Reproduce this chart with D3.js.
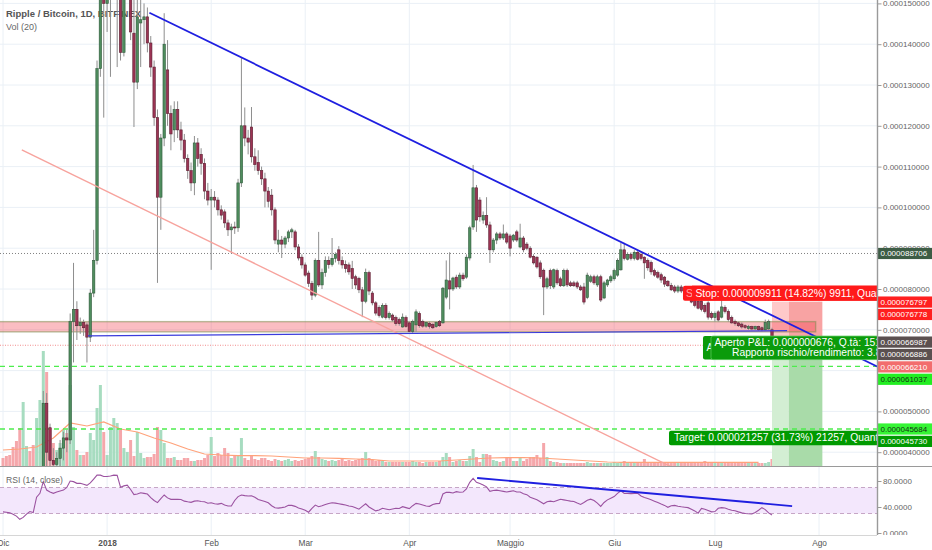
<!DOCTYPE html>
<html>
<head>
<meta charset="utf-8">
<script src="https://cdn.jsdelivr.net/npm/d3@7"></script>
<style>
body { margin: 0; background: #fff; }
svg { display: block; font-family: "Liberation Sans", Arial, sans-serif; }
</style>
</head>
<body>
<svg id="svg"></svg>
<script>
// XRP/BTC daily candles from 1 Dec 2017, prices in units of 0.000001 BTC
var opens = [
	24.5,24.0,23.5,22.0,21.5,20.0,17.5,19.0,19.5,18.5,
	18.0,24.0,30.0,52.0,46.0,38.0,37.0,38.5,41.0,43.5,
	43.0,72.0,75.0,71.0,71.8,71.2,68.2,79.0,87.0,134.0,
	160.0,150.0,162.0,178.0,195.0,210.0,138.0,160.0,172.0,142.7,
	130.7,145.2,146.0,146.7,140.3,134.4,122.0,102.5,117.0,133.7,
	123.0,119.0,124.0,119.0,116.5,112.0,109.0,106.0,115.8,113.0,
	110.8,104.0,101.8,102.5,101.8,99.4,98.9,96.2,94.5,95.2,
	95.0,106.0,120.0,117.0,119.7,112.4,111.0,109.0,107.0,104.0,
	103.0,99.4,91.0,92.0,91.0,92.5,94.0,94.0,90.3,87.8,
	85.9,83.9,81.4,78.5,87.0,81.0,84.0,87.0,86.0,87.5,
	89.6,87.0,86.0,85.9,85.0,83.0,82.6,79.8,77.0,84.0,
	79.0,76.6,75.5,73.1,76.0,73.0,73.6,73.0,72.5,70.7,
	73.0,71.7,69.6,71.2,74.0,72.0,70.9,71.6,71.3,70.8,
	72.0,71.7,78.0,82.0,80.0,82.9,80.5,83.4,82.9,87.6,
	95.2,104.8,101.8,96.9,98.0,95.7,89.6,92.0,93.5,92.5,
	93.5,93.0,92.0,94.0,90.3,92.5,91.0,90.0,88.0,87.8,
	86.4,84.6,80.5,84.5,80.5,84.5,82.5,80.8,84.5,81.5,
	81.5,81.5,80.5,80.5,77.9,81.9,83.0,81.0,83.0,77.8,
	81.0,82.0,82.5,83.4,84.7,89.6,87.3,88.5,87.5,89.0,
	88.5,87.8,87.0,86.5,84.5,84.0,83.5,82.9,81.9,80.9,
	80.5,79.5,80.5,80.0,79.5,78.5,78.0,77.0,77.0,76.0,
	76.6,74.0,73.0,74.4,73.1,75.5,74.5,73.0,72.0,71.7,
	71.4,71.0,70.3,70.8,70.2,70.8,70.5,70.0,70.2,70.0
];
var highs = [
	25.0,24.6,24.0,22.8,22.0,20.5,19.8,20.0,19.8,19.0,
	25.0,31.0,55.0,54.5,47.0,41.0,40.0,43.0,45.0,45.5,
	74.0,86.4,77.0,73.0,72.5,71.8,80.0,94.5,136.0,172.0,
	178.0,168.0,185.0,205.0,225.0,215.0,176.0,190.0,178.0,152.0,
	160.0,155.0,150.0,149.0,142.0,136.0,124.0,118.0,147.6,141.0,
	125.0,126.0,126.0,121.0,118.0,113.0,111.0,117.5,117.0,114.5,
	112.0,106.0,104.5,104.0,102.5,100.5,99.5,97.0,96.0,96.5,
	107.0,136.6,124.5,119.0,124.6,114.5,114.0,110.0,108.5,105.0,
	104.5,100.0,94.5,93.0,93.0,94.5,95.0,94.5,91.0,88.5,
	86.5,84.5,82.0,87.5,94.0,85.0,88.0,88.0,92.5,89.0,
	90.5,88.0,87.0,86.5,86.9,83.5,83.0,80.5,85.0,84.5,
	79.5,77.0,76.0,76.5,76.5,74.5,74.0,73.5,73.0,74.0,
	73.5,72.0,72.5,75.0,74.5,72.5,72.0,72.0,71.6,72.0,
	72.4,80.5,87.0,89.0,83.0,83.5,84.0,84.0,88.5,95.5,
	110.4,105.5,102.5,99.0,102.5,96.5,92.5,94.0,94.0,95.8,
	94.0,93.5,93.5,94.5,96.0,93.0,91.5,90.5,88.5,88.0,
	87.0,85.0,83.0,85.0,85.0,85.0,83.0,85.0,85.0,82.0,
	82.0,82.0,81.0,81.5,84.0,83.5,83.5,83.5,83.5,82.0,
	82.5,83.5,85.0,87.5,91.3,91.3,89.0,89.0,89.5,89.5,
	89.0,88.0,87.5,87.0,85.0,84.5,84.0,83.2,82.2,81.5,
	81.0,81.0,81.0,80.5,80.0,79.0,78.5,77.5,77.5,76.5,
	77.0,74.5,74.5,74.8,78.5,76.0,75.0,73.5,72.5,72.0,
	71.8,71.3,71.2,71.0,71.0,71.0,70.8,72.5,72.5,70.5
];
var lows = [
	23.0,23.0,21.5,21.0,19.5,17.0,17.0,18.5,18.2,17.5,
	17.8,23.5,29.0,36.0,36.0,34.0,34.5,36.0,38.0,40.0,
	42.0,62.0,67.5,69.0,68.5,62.0,67.0,78.0,86.0,132.0,
	122.0,143.0,132.0,172.0,134.4,136.0,137.0,155.0,141.0,119.7,
	129.0,134.4,140.0,138.0,132.0,120.0,81.5,94.5,115.0,120.0,
	114.0,116.0,117.0,114.0,111.0,107.0,104.0,103.0,110.0,108.0,
	102.0,100.5,84.7,100.0,98.0,97.0,95.0,93.0,88.8,93.5,
	94.0,105.0,115.0,113.0,111.0,109.0,108.0,105.5,100.0,100.0,
	98.0,91.0,89.0,87.6,90.0,91.5,92.5,89.5,87.0,85.0,
	83.0,80.5,77.3,78.0,80.5,80.0,83.0,85.0,85.5,86.5,
	86.0,85.0,84.0,83.5,80.0,80.0,79.0,73.1,76.5,78.5,
	76.0,73.5,73.0,72.8,72.5,72.5,72.0,71.0,71.0,70.5,
	70.5,69.5,69.0,69.5,70.5,70.5,70.5,70.3,70.2,70.5,
	70.7,71.5,77.5,75.0,79.5,80.0,80.0,82.0,82.5,87.0,
	94.5,94.0,96.5,96.0,95.0,86.4,89.0,91.0,92.0,92.0,
	91.0,88.0,91.5,91.5,90.0,89.0,89.5,87.5,86.0,85.0,
	82.5,73.6,80.0,80.0,80.0,81.0,80.5,80.5,80.5,80.5,
	80.5,80.0,79.5,76.2,77.5,81.5,81.0,80.5,76.8,77.5,
	80.5,81.5,82.0,83.0,84.5,87.0,87.0,87.0,87.0,87.0,
	87.0,82.5,84.5,83.5,83.0,82.5,81.5,80.5,80.5,79.5,
	79.0,79.0,79.0,78.0,77.5,76.5,75.5,75.0,74.5,74.0,
	72.5,72.5,72.0,72.0,72.8,74.0,72.0,71.5,71.0,70.7,
	70.3,70.2,70.0,69.9,70.0,69.8,69.7,69.9,70.0,66.5
];
var closes = [
	24.0,23.5,22.0,21.5,20.0,17.5,19.0,19.5,18.5,18.0,
	24.0,30.0,52.0,40.0,38.0,37.0,38.5,41.0,43.5,43.0,
	72.0,75.0,71.0,71.8,70.5,68.2,79.0,87.0,134.0,160.0,
	150.0,162.0,178.0,195.0,210.0,138.0,160.0,172.0,143.0,130.7,
	146.7,146.0,146.7,140.3,134.4,122.0,102.5,117.0,140.0,123.0,
	118.0,124.0,119.0,116.5,112.0,109.0,106.0,115.8,112.0,110.8,
	104.0,101.8,102.5,101.8,99.4,98.1,96.2,94.5,95.2,95.0,
	106.0,120.0,117.0,116.0,112.4,110.5,109.0,107.0,104.0,101.5,
	99.4,92.0,92.0,91.0,92.5,94.0,94.5,90.3,87.6,85.9,
	83.4,81.4,78.5,87.0,81.0,84.0,87.0,86.0,87.5,88.5,
	87.0,85.9,85.0,84.2,82.6,81.0,79.8,77.0,84.0,79.5,
	76.6,74.1,73.5,76.0,73.0,74.0,72.4,71.5,71.5,73.1,
	70.8,69.6,72.0,74.4,71.0,70.9,71.8,70.8,70.5,71.8,
	71.0,80.2,82.2,80.0,82.7,80.5,83.4,82.5,87.8,95.0,
	104.8,96.9,97.7,98.0,95.7,89.6,92.0,93.5,92.5,93.5,
	91.5,90.0,93.2,92.0,92.5,89.6,90.0,87.8,86.4,85.4,
	83.0,80.5,82.5,80.8,84.7,81.5,80.8,84.5,81.0,80.8,
	80.8,80.5,79.8,76.8,83.4,83.0,81.5,83.0,77.3,81.5,
	82.2,83.0,84.5,87.0,89.6,87.5,88.5,87.5,89.0,87.3,
	87.5,86.4,85.2,84.2,83.4,82.9,82.2,81.2,80.8,79.8,
	79.5,80.5,79.5,78.5,77.7,76.8,76.0,75.3,75.0,74.5,
	73.1,73.0,74.0,72.4,75.6,74.5,72.5,71.7,71.5,71.0,
	70.7,70.6,70.8,70.2,70.8,70.0,70.0,71.8,72.0,66.987
];
// volume, millions
var volumes = [
	40,50,55,95,125,190,320,100,75,105,
	240,330,575,470,190,115,80,115,180,165,
	405,195,80,55,55,70,165,130,290,405,
	170,55,195,240,215,180,90,70,130,50,
	170,65,40,45,45,60,195,180,115,40,
	40,45,30,30,40,40,25,25,30,30,
	40,55,145,50,65,55,90,65,40,50,
	50,140,40,30,50,35,30,40,40,30,
	25,35,30,25,30,35,25,30,25,30,
	35,40,50,75,45,35,30,25,30,25,
	30,35,25,30,25,30,35,40,70,40,
	30,25,30,25,20,20,20,20,20,20,
	20,20,25,20,20,15,20,20,20,20,
	25,45,65,45,20,25,30,25,25,50,
	85,45,20,60,60,55,30,25,20,25,
	40,40,25,25,40,25,35,45,45,55,
	40,115,45,25,20,20,15,15,15,15,
	15,15,15,15,20,15,15,15,15,15,
	15,15,20,15,20,25,15,15,15,15,
	15,35,15,15,15,15,15,15,15,15,
	15,15,15,20,15,15,15,15,15,25,
	15,15,15,15,15,15,15,15,15,15,
	15,15,15,15,15,15,15,15,20,35
];
// Vol (20) average, read every 5th day
var volMa = [80,85,95,140,215,200,220,185,170,140,115,85,60,55,52,52,50,45,40,40,
	38,35,32,25,25,25,25,30,35,40,42,42,40,35,30,25,20,18,18,18,18,18,18,18,18,18];
var rsi = [
	32.5,32,31,29,26,21,24,29,33,31.5,
	55,61,79,66,63,61,63,64.5,66,70,
	80,79,76.4,76.4,75,73.3,77,83,89,89,
	87,87,87.7,89,88.7,70.5,72.5,73.5,67,59,
	60,62,61,60,54.5,50,46.7,53,58.5,54,
	51.8,52,51.8,51.5,49,48,47.2,49,49.7,48.5,
	48,45.8,46.5,45,44.5,45.6,43,41.5,41.5,50,
	56,58.5,57.5,57,57.4,55,51.5,50,48.5,46.5,
	42,38.8,38.3,39,40,42.5,42.5,41,38.5,37,
	35,32,38,43,40.5,42,44,45.5,46.5,46,
	45,44,43,41.5,40.8,39,36.6,41,45,40,
	37,34,35.5,38,37,35.9,37,38,37.6,40.5,
	39,37.5,42,45.6,44.5,43,41.5,41,44,45.2,
	45.6,60,62.5,62.5,61.5,63.6,62.6,63,68,78,
	84,78,76,74,71,64,65.5,66,65,64,
	63,64,65,63,63,60.5,59,55,53,51,
	48,45,48,49,48,50,52,51,50,49,
	48.5,46,44,47,50.5,52,50,46,41,47,
	51,53.5,56,61,65,61,60.8,60.6,60.8,61,
	57,54.5,53,51,49,47,44.5,42.5,39.6,42,
	42.5,41.2,40.3,39.7,39,36.5,34,30.5,37.8,36.5,
	34.5,32.5,33,38,39,38.5,36.5,35,34.3,32.5,
	31,30,29.5,29.3,31.5,35,39,36,31,27.7
];

var monthLabels = ["Dic", "2018", "Feb", "Mar", "Apr", "Maggio", "Giu", "Lug", "Ago"];
var monthDates = [Date.UTC(2017,11,1), Date.UTC(2018,0,1), Date.UTC(2018,1,1), Date.UTC(2018,2,1),
	Date.UTC(2018,3,1), Date.UTC(2018,4,1), Date.UTC(2018,5,1), Date.UTC(2018,6,1), Date.UTC(2018,7,1)].map(function(t) { return new Date(t); });
var priceTicks = [40, 50, 60, 70, 80, 90, 100, 110, 120, 130, 140, 150];
var rsiTicks = [80, 40, 0];

// drawings: [day from 1 Dec 2017, price]
var trendTop = [[43.6, 147.7], [260.3, 61.0]];
var trendBase = [[25.3, 68.5], [233.5, 69.8]];
var trendSalmon = [[5.6, 114.1], [198.6, 36.6]];
var zoneBox = [[-20, 72.0], [242, 69.5]];
var rsiTrend = [[141.2, 84.6], [235, 41.5]];
var hLevels = [88.706, 66.21, 61.037, 45.684];
var entryPrice = 66.987, stopDistance = 9.911;
var positionDays = [229, 234, 244];
var markerPrices = [88.706, 76.797, 76.778, 66.987, 66.886, 66.210, 61.037, 45.684, 45.730];

var width = 932, height = 550;
var plotRight = 877, priceBottom = 466, rsiTop = 467, rsiBottom = 535;
var firstDay = Date.UTC(2017, 11, 1);

var svg = d3.select("#svg")
	.attr("width", width)
	.attr("height", height);

function day(d) { return new Date(firstDay + d * 864e5); }

var x = d3.scaleUtc()
	.domain([monthDates[0], monthDates[8]])
	.range([3, 819]);
var y = d3.scaleLinear()
	.domain([40, 150])
	.range([452.2, 3.4]);
var vy = d3.scaleLinear()
	.domain([0, 600])
	.range([priceBottom, priceBottom - 120]);
var ry = d3.scaleLinear()
	.domain([0, 100])
	.range([533, 468]);

var defs = svg.append("defs");
defs.append("clipPath").attr("id", "clipPrice").append("rect")
	.attr("x", 0).attr("y", 0).attr("width", plotRight).attr("height", priceBottom);
defs.append("clipPath").attr("id", "clipRsi").append("rect")
	.attr("x", 0).attr("y", rsiTop).attr("width", plotRight).attr("height", rsiBottom - rsiTop);
defs.append("clipPath").attr("id", "clipAxis").append("rect")
	.attr("x", plotRight).attr("y", 0).attr("width", width - plotRight).attr("height", rsiBottom);

// grid
svg.append("g").selectAll("line").data(monthDates).enter().append("line")
	.attr("x1", function(d) { return x(d); })
	.attr("x2", function(d) { return x(d); })
	.attr("y1", 0).attr("y2", rsiBottom)
	.attr("stroke", "#eaf0f6");
svg.append("g").selectAll("line").data(priceTicks).enter().append("line")
	.attr("x1", 0).attr("x2", plotRight)
	.attr("y1", function(d) { return y(d); })
	.attr("y2", function(d) { return y(d); })
	.attr("stroke", "#eaf0f6");

var pane = svg.append("g").attr("clip-path", "url(#clipPrice)");

pane.append("text").attr("x", 6).attr("y", 17)
	.style("font-size", "9.5px").style("font-weight", "bold").style("fill", "#555")
	.text("Ripple / Bitcoin, 1D, BITFINEX");
pane.append("text").attr("x", 6).attr("y", 30)
	.style("font-size", "9px").style("fill", "#666")
	.text("Vol (20)");

function up(i) { return closes[i] >= opens[i]; }

// volume
pane.append("g").selectAll("rect").data(volumes).enter().append("rect")
	.attr("x", function(d, i) { return x(day(i)) - 1.5; })
	.attr("width", 3)
	.attr("y", function(d) { return vy(d); })
	.attr("height", function(d) { return priceBottom - vy(d); })
	.style("fill", function(d, i) { return up(i) ? "#a7dcc0" : "#f5a7ab"; });

pane.append("path")
	.datum(volMa)
	.attr("d", d3.line()
		.x(function(d, k) { return x(day(k * 5)); })
		.y(function(d) { return vy(d); }))
	.style("fill", "none").style("stroke", "#ffa27a").style("stroke-width", 1.2);

// position tool areas
var stopPrice = entryPrice + stopDistance;
var pd = positionDays.map(function(d) { return x(day(d)); });
var yEntry = y(entryPrice), yStop = y(stopPrice);
pane.append("rect").attr("x", pd[0]).attr("width", pd[1] - pd[0])
	.attr("y", yStop).attr("height", yEntry - yStop).style("fill", "#ffc9c9");
pane.append("rect").attr("x", pd[1]).attr("width", pd[2] - pd[1])
	.attr("y", yStop).attr("height", yEntry - yStop).style("fill", "#f8a3a3");
// the target area runs past the bottom of the pane
pane.append("rect").attr("x", pd[0]).attr("width", pd[1] - pd[0])
	.attr("y", yEntry).attr("height", priceBottom - yEntry).style("fill", "#d3eed3");
pane.append("rect").attr("x", pd[1]).attr("width", pd[2] - pd[1])
	.attr("y", yEntry).attr("height", priceBottom - yEntry).style("fill", "#a9dba9");

// support zone
pane.append("rect")
	.attr("x", x(day(zoneBox[0][0])))
	.attr("width", x(day(zoneBox[1][0])) - x(day(zoneBox[0][0])))
	.attr("y", y(zoneBox[0][1]))
	.attr("height", y(zoneBox[1][1]) - y(zoneBox[0][1]))
	.style("fill", "rgba(242,54,69,0.33)")
	.style("stroke", "rgba(130,140,80,0.55)").style("stroke-width", 1.4);

// horizontal levels
var levelStroke = ["#808080", "#f28c8c", "#4ded4d", "#4ded4d"];
var levelDash = ["1,2", "1,1.5", "5,4", "5,4"];
pane.append("g").selectAll("line").data(hLevels).enter().append("line")
	.attr("x1", 0).attr("x2", plotRight)
	.attr("y1", function(d) { return y(d); })
	.attr("y2", function(d) { return y(d); })
	.style("stroke", function(d, i) { return levelStroke[i]; })
	.style("stroke-width", function(d, i) { return i < 2 ? 1 : 1.4; })
	.style("stroke-dasharray", function(d, i) { return levelDash[i]; });

// candles
var candle = pane.append("g").selectAll("g").data(closes).enter().append("g");
candle.append("line")
	.attr("x1", function(d, i) { return x(day(i)); })
	.attr("x2", function(d, i) { return x(day(i)); })
	.attr("y1", function(d, i) { return y(highs[i]); })
	.attr("y2", function(d, i) { return y(lows[i]); })
	.style("stroke", "#8e8e8e");
candle.append("rect")
	.attr("x", function(d, i) { return x(day(i)) - 1.2; })
	.attr("width", 2.4)
	.attr("y", function(d, i) { return y(Math.max(opens[i], closes[i])); })
	.attr("height", function(d, i) { return Math.max(1, Math.abs(y(opens[i]) - y(closes[i]))); })
	.style("fill", function(d, i) { return up(i) ? "#4f8d5e" : "#9c3454"; })
	.style("stroke", function(d, i) { return up(i) ? "#2f5a3b" : "#5c1e31"; })
	.style("stroke-width", 0.6);

// trend lines
function drawLine(g, pts, yScale, color, w) {
	g.append("line")
		.attr("x1", x(day(pts[0][0]))).attr("y1", yScale(pts[0][1]))
		.attr("x2", x(day(pts[1][0]))).attr("y2", yScale(pts[1][1]))
		.style("stroke", color).style("stroke-width", w);
}
drawLine(pane, trendSalmon, y, "#f7a39d", 1.4);
drawLine(pane, trendBase, y, "#3b3bdc", 1.2);
drawLine(pane, trendTop, y, "#1f1fe0", 1.8);

// position labels
var labelFont = "10.3px";
var stopX = pd[0] - 89;
pane.append("rect").attr("x", stopX).attr("y", yStop - 16).attr("width", 200).attr("height", 15)
	.attr("rx", 2).style("fill", "#ff1a1a");
pane.append("text").attr("x", stopX + 3).attr("y", yStop - 4.6)
	.style("font-size", labelFont).style("fill", "#fff").style("opacity", 0.6).text("S");
pane.append("rect").attr("x", stopX + 9).attr("y", yStop - 16).attr("width", 200).attr("height", 15)
	.style("fill", "#ff1a1a");
pane.append("text").attr("x", stopX + 12.5).attr("y", yStop - 4.6)
	.style("font-size", labelFont).style("fill", "#fff")
	.text("Stop: 0.000009911 (14.82%) 9911, Quantità: 1513");

var plX = pd[0] - 69;
pane.append("rect").attr("x", plX).attr("y", yEntry - 6).attr("width", 200).attr("height", 23.5)
	.attr("rx", 2).style("fill", "#0a9a0a");
pane.append("text").attr("x", plX + 3.5).attr("y", yEntry + 8.5)
	.style("font-size", labelFont).style("fill", "#fff").text("A");
pane.append("rect").attr("x", plX + 8).attr("y", yEntry - 6).attr("width", 200).attr("height", 23.5)
	.attr("rx", 2).style("fill", "#0b9b0b").style("stroke", "#5cc85c").style("stroke-width", 0.8);
pane.append("text").attr("x", plX + 11.5).attr("y", yEntry + 3.8)
	.style("font-size", labelFont).style("fill", "#fff")
	.text("Aperto P&L: 0.000000676, Q.tà: 1513");
pane.append("text").attr("x", plX + 29).attr("y", yEntry + 13.6)
	.style("font-size", labelFont).style("fill", "#fff")
	.text("Rapporto rischio/rendimento: 3.85");

var yTarget = y(hLevels[3]);
pane.append("rect").attr("x", pd[0] - 103).attr("y", yTarget + 1.8).attr("width", 215).attr("height", 14.4)
	.attr("rx", 2).style("fill", "#009a00");
pane.append("text").attr("x", pd[0] - 98).attr("y", yTarget + 12.4)
	.style("font-size", labelFont).style("fill", "#fff")
	.text("Target: 0.000021257 (31.73%) 21257, Quantità: 1513");

// RSI pane
var rp = svg.append("g").attr("clip-path", "url(#clipRsi)");
rp.append("rect").attr("x", 0).attr("width", plotRight)
	.attr("y", ry(70)).attr("height", ry(30) - ry(70))
	.style("fill", "#f3e7fc");
rp.append("g").selectAll("line").data([70, 30]).enter().append("line")
	.attr("x1", 0).attr("x2", plotRight)
	.attr("y1", function(d) { return ry(d); })
	.attr("y2", function(d) { return ry(d); })
	.style("stroke", "#c6a6c6").style("stroke-dasharray", "4,3");
rp.append("path")
	.datum(rsi)
	.attr("d", d3.line()
		.x(function(d, i) { return x(day(i)); })
		.y(function(d) { return ry(d); }))
	.style("fill", "none").style("stroke", "#9b52a0").style("stroke-width", 1.1);
drawLine(rp, rsiTrend, ry, "#1f1fe0", 1.8);
rp.append("text").attr("x", 6).attr("y", 483)
	.style("font-size", "8.6px").style("fill", "#666")
	.text("RSI (14, close)");

// pane borders
svg.append("line").attr("x1", 0).attr("x2", width).attr("y1", priceBottom + 0.5).attr("y2", priceBottom + 0.5)
	.style("stroke", "#9a9a9a");
svg.append("line").attr("x1", 0).attr("x2", plotRight).attr("y1", rsiBottom + 0.5).attr("y2", rsiBottom + 0.5)
	.style("stroke", "#d6d6d6");

// price markers on the axis, stacked so they do not overlap
var markerY = [], prev = -1e9;
markerPrices.forEach(function(p) {
	var yy = Math.max(y(p), prev + 12.4);
	markerY.push(yy);
	prev = yy;
});

// right axes; tick labels sitting fully under a marker are left out
var axisArea = svg.append("g").attr("clip-path", "url(#clipAxis)");
var shownTicks = priceTicks.filter(function(t) {
	return !markerY.some(function(m) { return Math.abs(m - y(t)) < 4; });
});
var priceAxis = axisArea.append("g")
	.attr("transform", "translate(" + (plotRight + 0.5) + ",0)")
	.call(d3.axisRight(y)
		.tickValues(shownTicks)
		.tickSize(4)
		.tickPadding(1.5)
		.tickFormat(function(d) { return (d / 1e6).toFixed(9); }));
var rsiAxis = axisArea.append("g")
	.attr("transform", "translate(" + (plotRight + 0.5) + ",0)")
	.call(d3.axisRight(ry)
		.tickValues(rsiTicks)
		.tickSize(4)
		.tickPadding(1.5)
		.tickFormat(function(d) { return d.toFixed(4); }));
[priceAxis, rsiAxis].forEach(function(a) {
	a.select(".domain").remove();
	a.selectAll("line").style("stroke", "#9a9a9a");
	a.selectAll("text").style("font-size", "8px").style("fill", "#666")
		.style("font-family", "'Liberation Sans', Arial, sans-serif");
});

var markerBg = ["#3d5c45", "#ff1f1f", "#ff1f1f", "#5b5050", "#5b5050", "#f26d6d", "#22ee22", "#35f535", "#009a00"];
var markerFg = ["#fff", "#fff", "#fff", "#fff", "#fff", "#fff", "#143014", "#143014", "#fff"];
var marker = axisArea.selectAll(".marker").data(markerPrices).enter().append("g");
marker.append("rect")
	.attr("x", plotRight + 1)
	.attr("y", function(d, i) { return markerY[i] - 5.6; })
	.attr("width", width - plotRight)
	.attr("height", 11.2)
	.style("fill", function(d, i) { return markerBg[i]; });
marker.append("text")
	.attr("x", plotRight + 3.5)
	.attr("y", function(d, i) { return markerY[i] + 3; })
	.style("font-size", "8px")
	.style("fill", function(d, i) { return markerFg[i]; })
	.text(function(d) { return (d / 1e6).toFixed(9); });

svg.append("line").attr("x1", plotRight + 0.5).attr("x2", plotRight + 0.5).attr("y1", 0).attr("y2", rsiBottom)
	.style("stroke", "#9a9a9a").style("stroke-width", 1.4);

// time axis
var timeAxis = svg.append("g")
	.attr("transform", "translate(0," + rsiBottom + ")")
	.call(d3.axisBottom(x)
		.tickValues(monthDates)
		.tickSize(0)
		.tickPadding(5)
		.tickFormat(function(d, i) { return monthLabels[i]; }));
timeAxis.select(".domain").remove();
timeAxis.selectAll("text")
	.style("font-size", "8.3px").style("fill", "#555")
	.style("font-family", "'Liberation Sans', Arial, sans-serif")
	.style("font-weight", function(d, i) { return i == 1 ? "bold" : "normal"; });
</script>
</body>
</html>
